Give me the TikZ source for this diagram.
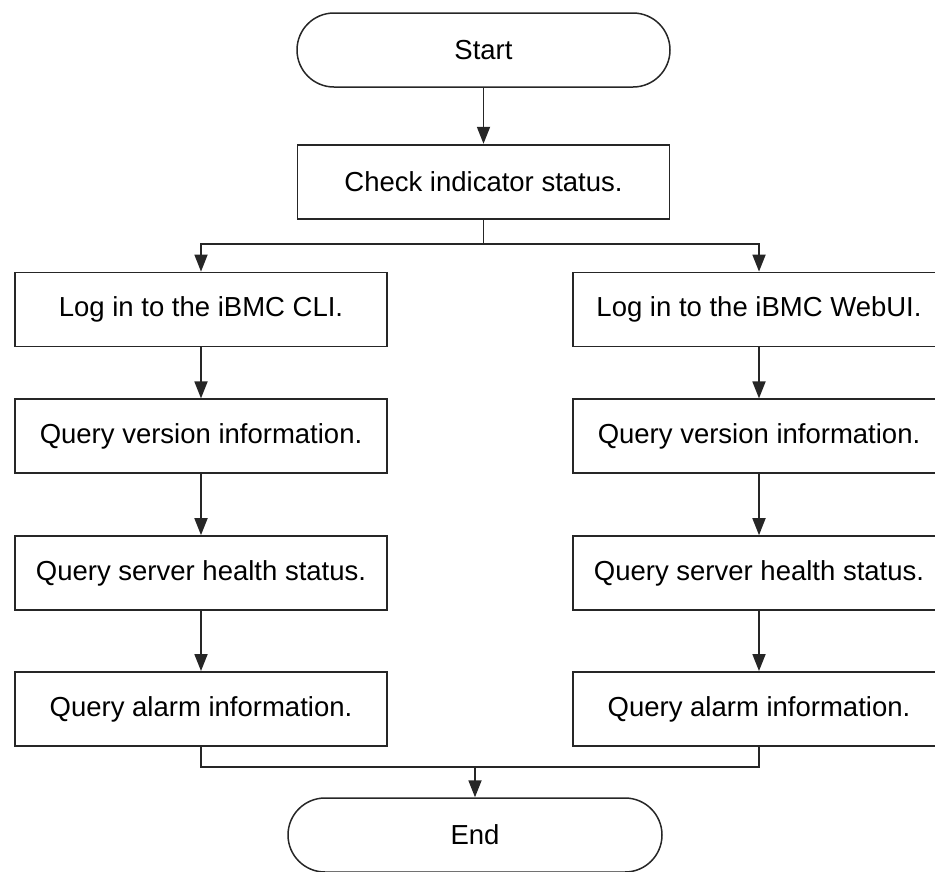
\documentclass[tikz,border=0pt]{standalone}
\usepackage{fontspec}
\setmainfont{Liberation Sans}
\usetikzlibrary{arrows.meta, positioning}

\begin{document}
\begin{tikzpicture}[
    x=1pt, y=-1pt,
    node distance = 51pt,
    every node/.style = {font=\fontsize{27.5}{33}\selectfont, inner sep=0pt},
    box/.style = {rectangle, draw=black!85, line width=1.8pt, minimum width=372pt, minimum height=74pt, align=center},
    terminal/.style = {rectangle, draw=black!85, line width=1.5pt, minimum width=373pt, minimum height=74pt, rounded corners=37pt},
    arrow/.style = {line width=1.8pt, draw=black!85, -{Triangle[width=13pt,length=17pt]}},
    line/.style = {line width=1.8pt, draw=black!85}
]
\useasboundingbox (0,0) rectangle (935,871);

% Start and first check
\node (start) [terminal] at (483.5,50) {Start};
\node (check) [box, below=56pt of start] {Check indicator status.};

% Left branch: CLI
\node (cli) [box] at (201,309.5) {Log in to the iBMC CLI.};
\node (cliver) [box, below=51pt of cli] {Query version information.};
\node (clihealth) [box, below=61pt of cliver] {Query server health status.};
\node (clialarm) [box, below=60pt of clihealth] {Query alarm information.};

% Right branch: WebUI
\node (web) [box] at (759,309.5) {Log in to the iBMC WebUI.};
\node (webver) [box, below=51pt of web] {Query version information.};
\node (webhealth) [box, below=61pt of webver] {Query server health status.};
\node (webalarm) [box, below=60pt of webhealth] {Query alarm information.};

\node (end) [terminal, minimum width=374pt] at (475,835) {End};

% Split and merge points
\coordinate (split) at (483.5,244);
\coordinate (merge) at (475,767);

% Arrows
\draw [arrow] (start) -- (check);
\draw [line] (check) -- (split);
\draw [arrow] (split) -| (cli);
\draw [arrow] (split) -| (web);
\draw [arrow] (cli) -- (cliver);
\draw [arrow] (cliver) -- (clihealth);
\draw [arrow] (clihealth) -- (clialarm);
\draw [arrow] (web) -- (webver);
\draw [arrow] (webver) -- (webhealth);
\draw [arrow] (webhealth) -- (webalarm);
\draw [line] (clialarm) |- (merge);
\draw [line] (webalarm) |- (merge);
\draw [arrow] (merge) -- (end);

\end{tikzpicture}
\end{document}
